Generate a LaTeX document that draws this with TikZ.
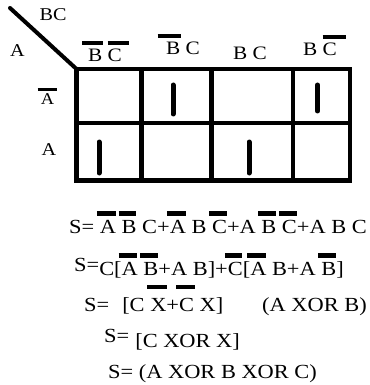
\documentclass[tikz,border=0pt]{standalone}
\usepackage{fontspec}
\setmainfont[FakeStretch=1.12]{Liberation Serif}
\newlength\barw
% letter with a heavy bar over it: left overhang, right overhang, raise, letter
\newcommand\ovx[4]{\settowidth\barw{#4}\rlap{\kern-#1\raisebox{#3}{\rule{\dimexpr\barw+#1+#2\relax}{0.21em}}}#4}
\newcommand\ov[1]{\ovx{0.15em}{-0.02em}{0.87em}{#1}}
\newcommand\ovh[1]{\ovx{0.15em}{0.05em}{1.08em}{#1}}
\newcommand\eqfont{\fontsize{20}{22}\selectfont}
\newcommand\hdfont{\fontsize{19}{20}\selectfont}
\begin{document}
\begin{tikzpicture}[x=1pt,y=-1pt,
  grid/.style={line width=4.5pt,line cap=rect},
  one/.style={line width=5pt,line cap=round},
  lbl/.style={inner sep=0pt,font=\fontsize{18}{20}\selectfont},
  hd/.style={inner sep=0pt,anchor=base,font=\hdfont},
  eq/.style={inner sep=0pt,anchor=base west,font=\eqfont}]
\useasboundingbox (0,0) rectangle (369,385);
% corner divider and its labels
\draw[line width=4pt,line cap=round] (10,8) -- (76.5,69);
\node[lbl] (bc) at (53,14.5) {BC};
\node[lbl] (a0) at (17.5,51) {A};
% map outline and cell borders
\draw[grid] (76.5,69) rectangle (350,180.5);
\draw[grid] (76.5,123) -- (350,123);
\draw[grid] (141.5,69) -- (141.5,180.5);
\draw[grid] (211.5,69) -- (211.5,180.5);
\draw[grid] (293,69) -- (293,180.5);
% column headings
\node[hd] (c1) at (105,62) {\ovx{0.3em}{0.05em}{0.87em}{B} \ovx{0em}{0.35em}{0.87em}{C}};
\node[hd] (c2) at (183,55) {\ovx{0.45em}{0.05em}{0.87em}{B} C};
\node[hd] (c3) at (250,60) {B C};
\node[hd] (c4) at (320,56) {B \ovx{0em}{0.5em}{0.87em}{C}};
% row headings
\node[lbl,anchor=base,font=\fontsize{16.5}{18}\selectfont] (r1) at (47.5,105) {\ovx{0.2em}{0.15em}{0.85em}{A}};
\node[lbl,anchor=base] (r2) at (49,155) {A};
% cells holding a one
\draw[one] (173,85) -- (173,114);
\draw[one] (317.5,85) -- (317.5,111);
\draw[one] (99,142) -- (99,173);
\draw[one] (249,142) -- (249,173);
% derivation
\node[eq] (e1) at (69,233) {S= \ov{A} \ov{B} C+\ov{A} B \ov{C}+A \ov{B} \ov{C}+A B C};
\node[eq] (e2) at (74,275) {\raisebox{4pt}{S=}C[\ov{A} \ov{B}+A B]+\ov{C}[\ov{A} B+A \ov{B}]};
\node[eq] (e3) at (84,311) {S=\hspace{13pt}[C \ovh{X}+\ovh{C} X]};
\node[eq] (e3b) at (262,311) {(A XOR B)};
\node[eq] (e4) at (104,347) {\raisebox{5pt}{S=}\hspace{6pt}[C XOR X]};
\node[eq] (e5) at (108,378) {S= (A XOR B XOR C)};
\end{tikzpicture}
\end{document}
